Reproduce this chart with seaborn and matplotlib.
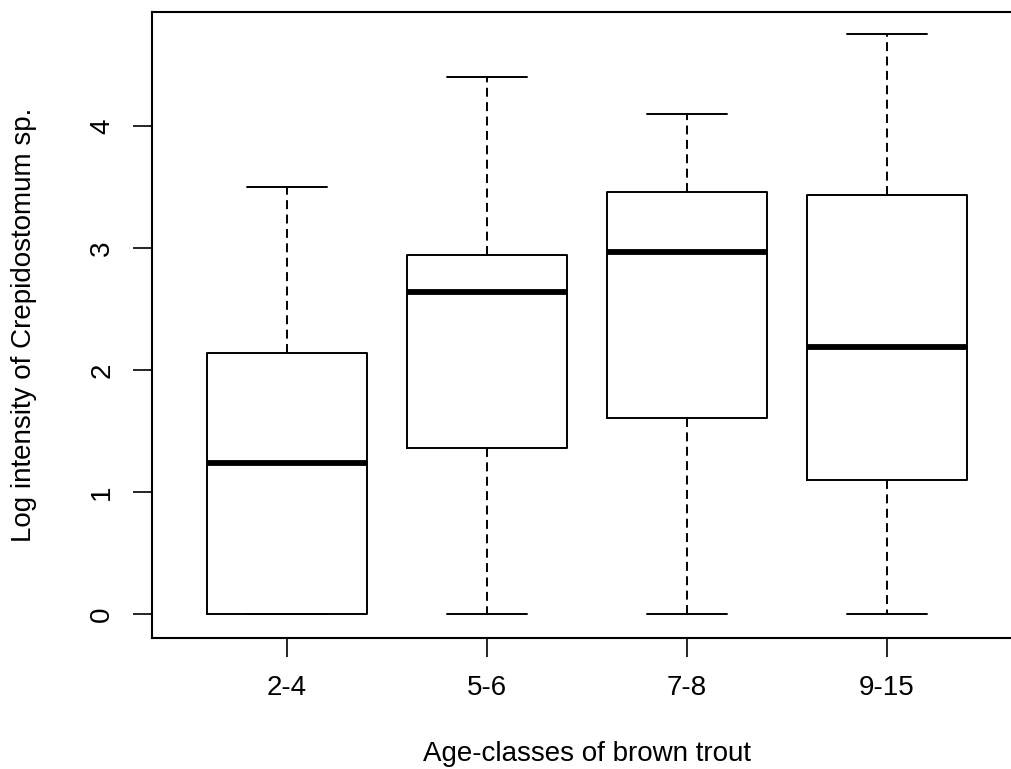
import matplotlib
matplotlib.use("Agg")
import matplotlib.pyplot as plt
import seaborn as sns
import pandas as pd

# Five-number summaries (min, Q1, median, Q3, max) of log intensity per age class
age_classes = ["2-4", "5-6", "7-8", "9-15"]
summary_2_4 = [0.00, 0.00, 1.24, 2.14, 3.50]
summary_5_6 = [0.00, 1.36, 2.64, 2.94, 4.40]
summary_7_8 = [0.00, 1.61, 2.97, 3.46, 4.10]
summary_9_15 = [0.00, 1.10, 2.19, 3.43, 4.75]
y_ticks = [0, 1, 2, 3, 4]

rows = []
for cls, vals in zip(age_classes, [summary_2_4, summary_5_6, summary_7_8, summary_9_15]):
    for v in vals:
        rows.append({"age": cls, "value": v})
df = pd.DataFrame(rows)

sns.set_style("ticks")
plt.rcParams["font.family"] = ["Liberation Sans", "DejaVu Sans"]
plt.rcParams["text.color"] = "black"
plt.rcParams["axes.labelcolor"] = "black"
plt.rcParams["xtick.color"] = "black"
plt.rcParams["ytick.color"] = "black"

fig = plt.figure(figsize=(10.11, 7.69), dpi=100)
ax = fig.add_axes([152 / 1011, 131 / 769, 870 / 1011, 626 / 769])

lw = 1.4
sns.boxplot(
    data=df, x="age", y="value", order=age_classes, ax=ax,
    width=0.8, whis=(0, 100), fill=False, color="black", linecolor="black",
    linewidth=lw, showfliers=False,
    boxprops=dict(linewidth=lw, color="black"),
    medianprops=dict(linewidth=4.2, color="black", solid_capstyle="butt"),
    whiskerprops=dict(linewidth=lw, color="black", linestyle=(0, (4.6, 2.8))),
    capprops=dict(linewidth=lw, color="black"),
)

ax.set_xlim(-0.675, 3.675)
ax.set_ylim(-0.197, 4.934)
ax.set_yticks(y_ticks)
ax.set_yticklabels([str(t) for t in y_ticks], rotation=90, va="center")

for side in ["left", "bottom", "top", "right"]:
    ax.spines[side].set_visible(True)
    ax.spines[side].set_linewidth(1.5)
    ax.spines[side].set_color("black")

ax.tick_params(axis="both", length=13.5, width=1.2, color="black", labelsize=20,
               labelcolor="black")
ax.tick_params(axis="x", pad=13)
ax.tick_params(axis="y", pad=13)
ax.set_xlabel("Age-classes of brown trout", fontsize=20, color="black")
ax.set_ylabel("Log intensity of Crepidostomum sp.", fontsize=20, color="black")
ax.xaxis.set_label_coords(0.5, -0.165)
ax.yaxis.set_label_coords(-0.132, 0.5)

fig.savefig("out.png", dpi=100)
